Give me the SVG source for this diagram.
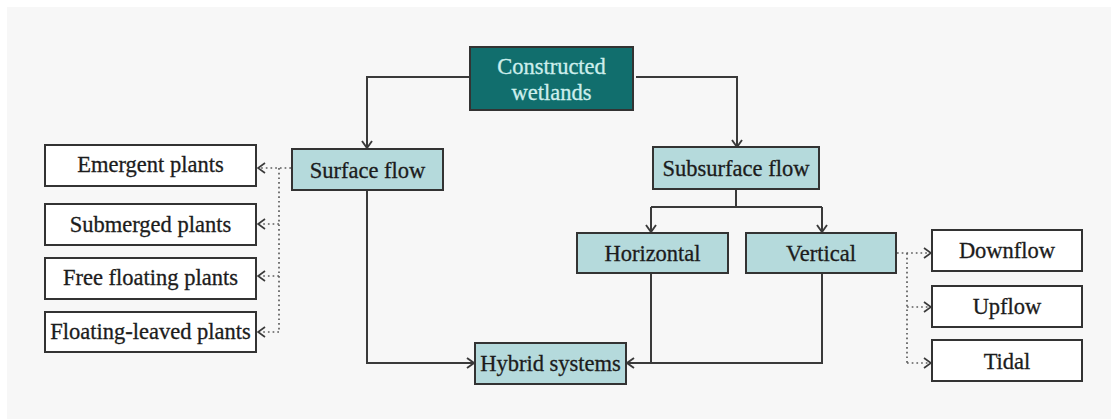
<svg xmlns="http://www.w3.org/2000/svg" width="1111" height="419" viewBox="0 0 1111 419">
  <defs>
    <style>
      .box { stroke: #333333; stroke-width: 2; }
      .plain { fill: #ffffff; }
      .light { fill: #b5dadc; }
      .dark { fill: #116e6d; }
      text { font-family: "Liberation Serif", "Times New Roman", serif; font-size: 22.5px; text-anchor: middle; fill: #1c1c1c; stroke: #1c1c1c; stroke-width: 0.3; }
      .onDark { fill: #cdeeec; stroke: #cdeeec; }
      .solid { fill: none; stroke: #3a3a3a; stroke-width: 2; }
      .dotted { fill: none; stroke: #5e5e5e; stroke-width: 1.7; stroke-dasharray: 1.7 3; }
    </style>
    <marker id="arrow" viewBox="0 0 10 12" refX="9" refY="6" markerWidth="10" markerHeight="12" markerUnits="userSpaceOnUse" orient="auto">
      <path d="M2,1 L9,6 L2,11" fill="none" stroke="#3a3a3a" stroke-width="1.9"/>
    </marker>
    <marker id="arrowDot" viewBox="0 0 10 12" refX="9" refY="6" markerWidth="10" markerHeight="12" markerUnits="userSpaceOnUse" orient="auto">
      <path d="M2,1 L9,6 L2,11" fill="none" stroke="#3a3a3a" stroke-width="1.7"/>
    </marker>
  </defs>

  <!-- page background -->
  <rect x="0" y="0" width="1111" height="419" fill="#ffffff"/>
  <rect x="7" y="7" width="1104" height="412" fill="#f7f7f7"/>

  <!-- connectors -->
  <g id="connectors">
    <path class="solid" d="M471,77 H367 V148" marker-end="url(#arrow)"/>
    <path class="solid" d="M636,77 H737 V147" marker-end="url(#arrow)"/>
    <path class="solid" d="M736,189 V207"/>
    <path class="solid" d="M651,207 H822"/>
    <path class="solid" d="M651,207 V232" marker-end="url(#arrow)"/>
    <path class="solid" d="M822,207 V232" marker-end="url(#arrow)"/>
    <path class="solid" d="M367,191 V363 H474" marker-end="url(#arrow)"/>
    <path class="solid" d="M651,273 V363"/>
    <path class="solid" d="M822,273 V363 H627" marker-end="url(#arrow)"/>

    <path class="dotted" d="M291,168 H258" marker-end="url(#arrowDot)"/>
    <path class="dotted" d="M279,168 V332"/>
    <path class="dotted" d="M279,224 H258" marker-end="url(#arrowDot)"/>
    <path class="dotted" d="M279,276 H258" marker-end="url(#arrowDot)"/>
    <path class="dotted" d="M279,332 H258" marker-end="url(#arrowDot)"/>

    <path class="dotted" d="M897,253 H931" marker-end="url(#arrowDot)"/>
    <path class="dotted" d="M907,253 V363"/>
    <path class="dotted" d="M907,307 H931" marker-end="url(#arrowDot)"/>
    <path class="dotted" d="M907,363 H931" marker-end="url(#arrowDot)"/>
  </g>

  <g id="constructed-wetlands">
    <rect class="box dark" x="470" y="47" width="163" height="63"/>
    <text class="onDark" x="551.5" y="74">Constructed</text>
    <text class="onDark" x="551.5" y="100">wetlands</text>
  </g>

  <g id="surface-flow">
    <rect class="box light" x="292" y="149" width="151" height="41"/>
    <text x="367.5" y="178">Surface flow</text>
  </g>

  <g id="subsurface-flow">
    <rect class="box light" x="653" y="147" width="166" height="42"/>
    <text x="736" y="176">Subsurface flow</text>
  </g>

  <g id="horizontal">
    <rect class="box light" x="577" y="233" width="151" height="40"/>
    <text x="652.5" y="261">Horizontal</text>
  </g>

  <g id="vertical">
    <rect class="box light" x="746" y="233" width="150" height="40"/>
    <text x="821" y="261">Vertical</text>
  </g>

  <g id="hybrid-systems">
    <rect class="box light" x="475" y="343" width="151" height="41"/>
    <text x="550.5" y="371">Hybrid systems</text>
  </g>

  <g id="emergent-plants">
    <rect class="box plain" x="45" y="145" width="211" height="41"/>
    <text x="150.5" y="172">Emergent plants</text>
  </g>

  <g id="submerged-plants">
    <rect class="box plain" x="45" y="204" width="211" height="41"/>
    <text x="150.5" y="232">Submerged plants</text>
  </g>

  <g id="free-floating-plants">
    <rect class="box plain" x="45" y="258" width="211" height="41"/>
    <text x="150.5" y="285">Free floating plants</text>
  </g>

  <g id="floating-leaved-plants">
    <rect class="box plain" x="45" y="312" width="211" height="40"/>
    <text x="150.5" y="339">Floating-leaved plants</text>
  </g>

  <g id="downflow">
    <rect class="box plain" x="932" y="230" width="150" height="41"/>
    <text x="1007" y="258">Downflow</text>
  </g>

  <g id="upflow">
    <rect class="box plain" x="932" y="286" width="150" height="41"/>
    <text x="1007" y="314">Upflow</text>
  </g>

  <g id="tidal">
    <rect class="box plain" x="932" y="340" width="150" height="41"/>
    <text x="1007" y="369">Tidal</text>
  </g>
</svg>
